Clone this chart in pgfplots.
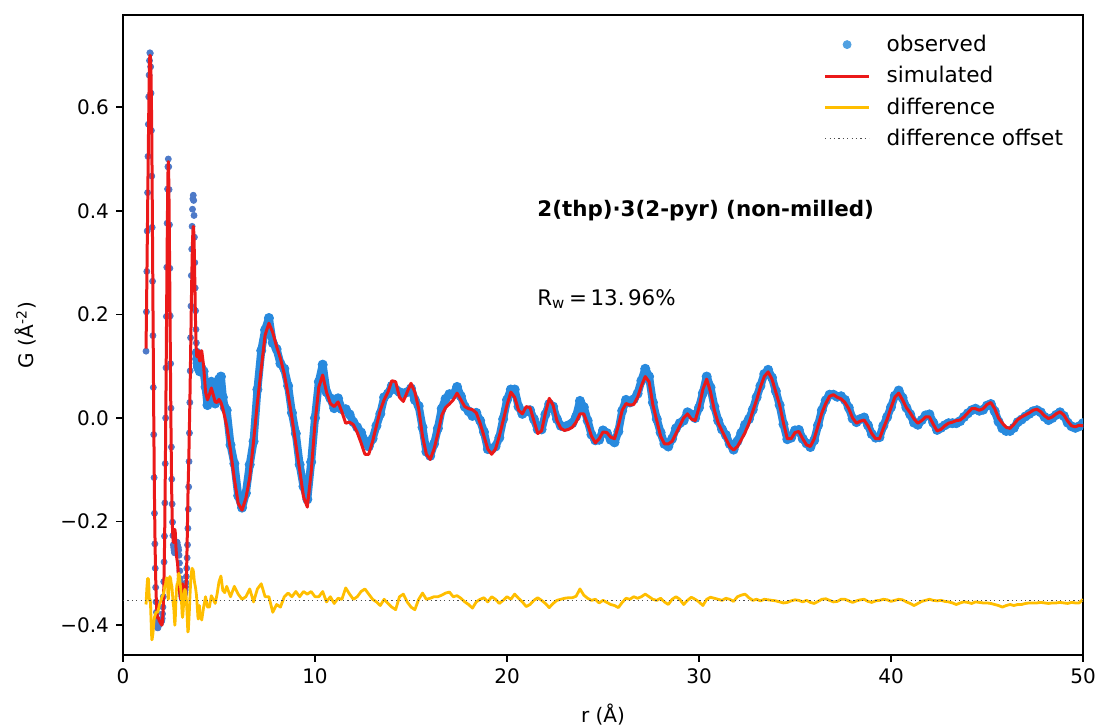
\documentclass[border=0pt]{standalone}
\usepackage{fontspec}
\setmainfont{DejaVu Sans}
\usepackage{pgfplots}
\usepackage{pgfplotstable}
\pgfplotsset{compat=1.18}
\definecolor{obsblue}{RGB}{40,138,222}
\definecolor{obsdot}{RGB}{78,122,200}
\definecolor{legdot}{RGB}{80,160,225}
\definecolor{simred}{RGB}{235,25,25}
\definecolor{diffyel}{RGB}{255,190,0}

\pgfplotstableread{
r obs sim diff
1.20 0.129 0.134 -0.360
1.22 0.205 0.195 -0.345
1.24 0.283 0.258 -0.330
1.26 0.361 0.326 -0.320
1.28 0.435 0.390 -0.310
1.30 0.505 0.460 -0.310
1.32 0.567 0.522 -0.310
1.34 0.620 0.585 -0.320
1.36 0.662 0.647 -0.340
1.38 0.690 0.688 -0.353
1.40 0.705 0.700 -0.350
1.42 0.704 0.700 -0.351
1.44 0.678 0.690 -0.367
1.46 0.627 0.660 -0.388
1.48 0.555 0.610 -0.410
1.50 0.467 0.540 -0.428
1.52 0.368 0.440 -0.427
1.54 0.264 0.330 -0.421
1.56 0.159 0.220 -0.416
1.58 0.059 0.110 -0.406
1.60 -0.032 0.010 -0.397
1.62 -0.115 -0.080 -0.390
1.64 -0.184 -0.155 -0.384
1.66 -0.243 -0.215 -0.383
1.68 -0.290 -0.265 -0.380
1.70 -0.327 -0.305 -0.377
1.72 -0.355 -0.335 -0.375
1.74 -0.375 -0.355 -0.375
1.76 -0.390 -0.370 -0.375
1.78 -0.400 -0.380 -0.375
1.80 -0.405 -0.385 -0.375
1.82 -0.405 -0.387 -0.373
1.84 -0.400 -0.385 -0.370
1.86 -0.400 -0.388 -0.367
1.88 -0.398 -0.390 -0.363
1.90 -0.398 -0.393 -0.360
1.92 -0.396 -0.392 -0.359
1.94 -0.396 -0.395 -0.356
1.96 -0.395 -0.396 -0.354
1.98 -0.394 -0.398 -0.351
2.00 -0.393 -0.398 -0.350
2.02 -0.391 -0.400 -0.346
2.04 -0.387 -0.397 -0.345
2.06 -0.378 -0.390 -0.343
2.08 -0.365 -0.378 -0.342
2.10 -0.345 -0.360 -0.340
2.12 -0.316 -0.335 -0.336
2.14 -0.278 -0.300 -0.333
2.16 -0.228 -0.255 -0.328
2.18 -0.164 -0.195 -0.324
2.20 -0.088 -0.120 -0.323
2.22 0.000 -0.035 -0.320
2.24 0.097 0.055 -0.313
2.26 0.196 0.150 -0.309
2.28 0.291 0.245 -0.309
2.30 0.376 0.330 -0.309
2.32 0.442 0.410 -0.323
2.34 0.485 0.470 -0.340
2.36 0.500 0.495 -0.350
2.38 0.485 0.470 -0.340
2.40 0.441 0.410 -0.324
2.42 0.373 0.330 -0.312
2.44 0.289 0.240 -0.306
2.46 0.197 0.150 -0.308
2.48 0.105 0.060 -0.310
2.50 0.019 -0.020 -0.316
2.52 -0.056 -0.090 -0.321
2.54 -0.118 -0.150 -0.323
2.56 -0.166 -0.190 -0.331
2.58 -0.201 -0.215 -0.341
2.60 -0.227 -0.230 -0.352
2.62 -0.245 -0.240 -0.360
2.64 -0.250 -0.240 -0.365
2.66 -0.255 -0.235 -0.375
2.68 -0.260 -0.225 -0.390
2.70 -0.260 -0.215 -0.400
2.72 -0.255 -0.220 -0.390
2.74 -0.250 -0.235 -0.370
2.76 -0.245 -0.250 -0.350
2.78 -0.240 -0.262 -0.333
2.80 -0.240 -0.270 -0.325
2.82 -0.240 -0.275 -0.320
2.84 -0.245 -0.280 -0.320
2.86 -0.250 -0.290 -0.315
2.88 -0.250 -0.300 -0.305
2.90 -0.255 -0.310 -0.300
2.92 -0.265 -0.320 -0.300
2.94 -0.280 -0.330 -0.305
2.96 -0.295 -0.338 -0.312
2.98 -0.310 -0.344 -0.321
3.00 -0.320 -0.348 -0.327
3.02 -0.330 -0.350 -0.335
3.04 -0.338 -0.345 -0.348
3.06 -0.344 -0.335 -0.364
3.08 -0.348 -0.325 -0.378
3.10 -0.350 -0.320 -0.385
3.12 -0.350 -0.325 -0.380
3.14 -0.348 -0.335 -0.368
3.16 -0.345 -0.345 -0.355
3.18 -0.342 -0.355 -0.342
3.20 -0.340 -0.360 -0.335
3.22 -0.336 -0.360 -0.331
3.24 -0.332 -0.355 -0.332
3.26 -0.326 -0.345 -0.336
3.28 -0.318 -0.330 -0.343
3.30 -0.306 -0.310 -0.351
3.32 -0.290 -0.280 -0.365
3.34 -0.270 -0.245 -0.380
3.36 -0.245 -0.200 -0.400
3.38 -0.213 -0.155 -0.413
3.40 -0.176 -0.120 -0.411
3.42 -0.133 -0.090 -0.398
3.44 -0.084 -0.055 -0.384
3.46 -0.029 -0.015 -0.369
3.48 0.030 0.025 -0.350
3.50 0.091 0.070 -0.334
3.52 0.155 0.120 -0.320
3.54 0.216 0.170 -0.309
3.56 0.275 0.220 -0.300
3.58 0.326 0.265 -0.294
3.60 0.370 0.305 -0.290
3.62 0.403 0.340 -0.292
3.64 0.423 0.360 -0.292
3.66 0.430 0.370 -0.295
3.68 0.420 0.365 -0.300
3.70 0.391 0.345 -0.309
3.72 0.349 0.310 -0.316
3.74 0.300 0.265 -0.320
3.76 0.251 0.220 -0.324
3.78 0.207 0.180 -0.328
3.80 0.171 0.150 -0.334
3.82 0.145 0.130 -0.340
3.84 0.126 0.120 -0.349
3.86 0.114 0.118 -0.359
3.88 0.106 0.122 -0.371
3.90 0.100 0.128 -0.383
3.92 0.097 0.130 -0.388
3.94 0.097 0.128 -0.386
3.96 0.100 0.120 -0.375
3.98 0.105 0.112 -0.362
4.0 0.090 0.110 -0.375
4.1 0.095 0.130 -0.390
4.2 0.090 0.100 -0.365
4.3 0.060 0.050 -0.345
4.4 0.025 0.035 -0.365
4.5 0.035 0.045 -0.365
4.6 0.070 0.058 -0.343
4.7 0.050 0.045 -0.350
4.8 0.028 0.031 -0.358
4.9 0.045 0.030 -0.340
5.0 0.075 0.036 -0.316
5.1 0.080 0.030 -0.305
5.2 0.040 0.018 -0.333
5.3 0.020 0.002 -0.337
5.4 0.015 -0.015 -0.325
5.6 -0.052 -0.062 -0.345
5.8 -0.088 -0.118 -0.325
6.0 -0.150 -0.165 -0.340
6.2 -0.173 -0.178 -0.350
6.4 -0.145 -0.155 -0.345
6.6 -0.090 -0.115 -0.330
6.8 -0.045 -0.045 -0.355
7.0 0.055 0.030 -0.330
7.2 0.130 0.095 -0.320
7.4 0.170 0.160 -0.345
7.6 0.193 0.183 -0.345
7.8 0.145 0.165 -0.375
8.0 0.133 0.138 -0.360
8.2 0.105 0.115 -0.365
8.4 0.095 0.085 -0.345
8.6 0.062 0.045 -0.338
8.8 0.010 0.000 -0.345
9.0 -0.030 -0.050 -0.335
9.2 -0.090 -0.100 -0.345
9.4 -0.132 -0.152 -0.335
9.6 -0.157 -0.172 -0.340
9.8 -0.085 -0.105 -0.335
10.0 0.000 -0.010 -0.345
10.2 0.070 0.060 -0.345
10.4 0.103 0.083 -0.335
10.6 0.050 0.050 -0.355
10.8 0.038 0.028 -0.345
11.0 0.019 0.022 -0.358
11.2 0.038 0.031 -0.348
11.4 0.017 0.012 -0.350
11.6 0.017 -0.010 -0.328
11.8 0.007 -0.008 -0.340
12.0 -0.008 -0.013 -0.350
12.2 -0.018 -0.028 -0.345
12.4 -0.028 -0.048 -0.335
12.6 -0.045 -0.070 -0.330
12.8 -0.055 -0.070 -0.340
13.0 -0.040 -0.045 -0.350
13.2 -0.015 -0.015 -0.355
13.4 0.008 0.015 -0.362
13.6 0.040 0.035 -0.350
13.8 0.047 0.050 -0.358
14.0 0.062 0.072 -0.365
14.2 0.055 0.070 -0.370
14.4 0.050 0.040 -0.345
14.6 0.047 0.032 -0.340
14.8 0.050 0.050 -0.355
15.0 0.057 0.067 -0.365
15.2 0.035 0.050 -0.370
15.4 0.023 0.018 -0.350
15.6 -0.018 -0.035 -0.338
15.8 -0.065 -0.070 -0.350
16.0 -0.073 -0.080 -0.348
16.2 -0.050 -0.060 -0.345
16.4 -0.020 -0.030 -0.345
16.6 0.018 0.005 -0.342
16.8 0.037 0.020 -0.338
17.0 0.046 0.027 -0.336
17.2 0.045 0.035 -0.345
17.4 0.060 0.048 -0.343
17.6 0.042 0.035 -0.348
17.8 0.022 0.022 -0.355
18.0 0.013 0.018 -0.360
18.2 0.004 0.016 -0.367
18.4 0.010 0.010 -0.355
18.6 -0.005 -0.010 -0.350
18.8 -0.027 -0.035 -0.347
19.0 -0.060 -0.060 -0.355
19.2 -0.060 -0.070 -0.345
19.4 -0.055 -0.060 -0.350
19.6 -0.038 -0.035 -0.358
19.8 -0.002 -0.005 -0.352
20.0 0.035 0.025 -0.345
20.2 0.055 0.050 -0.350
20.4 0.055 0.040 -0.340
20.6 0.022 0.015 -0.348
20.8 0.008 0.008 -0.355
21.0 0.013 0.022 -0.364
21.2 0.015 0.020 -0.360
21.4 -0.002 -0.005 -0.352
21.6 -0.022 -0.030 -0.347
21.8 -0.022 -0.025 -0.352
22.0 0.007 0.010 -0.358
22.2 0.027 0.038 -0.366
22.4 0.022 0.025 -0.358
22.6 -0.002 -0.005 -0.352
22.8 -0.015 -0.020 -0.350
23.0 -0.017 -0.024 -0.348
23.2 -0.014 -0.022 -0.347
23.4 -0.010 -0.018 -0.347
23.6 0.003 -0.008 -0.344
23.8 0.033 0.008 -0.330
24.0 0.021 0.008 -0.342
24.2 -0.005 -0.012 -0.348
24.4 -0.032 -0.035 -0.352
24.6 -0.043 -0.048 -0.350
24.8 -0.042 -0.040 -0.357
25.0 -0.024 -0.027 -0.352
25.2 -0.029 -0.028 -0.356
25.4 -0.042 -0.037 -0.360
25.6 -0.047 -0.040 -0.362
25.8 -0.026 -0.015 -0.366
26.0 0.014 0.015 -0.356
26.2 0.035 0.028 -0.348
26.4 0.030 0.025 -0.350
26.6 0.036 0.026 -0.345
26.8 0.047 0.040 -0.348
27.0 0.072 0.062 -0.345
27.2 0.095 0.080 -0.340
27.4 0.080 0.070 -0.345
27.6 0.030 0.025 -0.350
27.8 -0.002 -0.005 -0.352
28.0 -0.028 -0.035 -0.348
28.2 -0.050 -0.050 -0.355
28.4 -0.055 -0.050 -0.360
28.6 -0.040 -0.045 -0.350
28.8 -0.020 -0.030 -0.345
29.0 -0.010 -0.015 -0.350
29.2 -0.005 0.000 -0.360
29.4 0.011 0.008 -0.352
29.6 0.007 -0.002 -0.346
29.8 0.000 -0.005 -0.350
30.0 0.020 0.020 -0.355
30.2 0.048 0.055 -0.362
30.4 0.080 0.075 -0.350
30.6 0.059 0.050 -0.346
30.8 0.022 0.015 -0.348
31.0 -0.005 -0.010 -0.350
31.2 -0.022 -0.025 -0.352
31.4 -0.033 -0.040 -0.348
31.6 -0.050 -0.055 -0.350
31.8 -0.061 -0.062 -0.354
32.0 -0.045 -0.055 -0.345
32.2 -0.029 -0.042 -0.342
32.4 -0.013 -0.028 -0.340
32.6 -0.002 -0.010 -0.347
32.8 0.016 0.013 -0.352
33.0 0.040 0.035 -0.350
33.2 0.062 0.060 -0.353
33.4 0.085 0.080 -0.350
33.6 0.093 0.089 -0.351
33.8 0.078 0.075 -0.352
34.0 0.052 0.050 -0.353
34.2 0.025 0.025 -0.355
34.4 -0.012 -0.010 -0.357
34.6 -0.041 -0.040 -0.356
34.8 -0.038 -0.040 -0.353
35.0 -0.024 -0.028 -0.351
35.2 -0.023 -0.026 -0.352
35.4 -0.040 -0.040 -0.355
35.6 -0.049 -0.052 -0.352
35.8 -0.056 -0.055 -0.356
36.0 -0.043 -0.040 -0.358
36.2 -0.014 -0.015 -0.354
36.4 0.015 0.010 -0.350
36.6 0.034 0.028 -0.349
36.8 0.045 0.042 -0.352
37.0 0.045 0.045 -0.355
37.2 0.041 0.040 -0.354
37.4 0.042 0.037 -0.350
37.6 0.035 0.030 -0.350
37.8 0.020 0.018 -0.353
38.0 -0.001 0.000 -0.356
38.2 -0.008 -0.010 -0.353
38.4 -0.002 -0.006 -0.351
38.6 0.001 -0.004 -0.350
38.8 -0.014 -0.015 -0.354
39.0 -0.031 -0.030 -0.356
39.2 -0.038 -0.040 -0.353
39.4 -0.037 -0.040 -0.352
39.6 -0.015 -0.020 -0.350
39.8 0.002 -0.002 -0.351
40.0 0.021 0.020 -0.354
40.2 0.043 0.040 -0.352
40.4 0.053 0.048 -0.350
40.6 0.039 0.035 -0.351
40.8 0.020 0.020 -0.355
41.0 0.007 0.010 -0.358
41.2 -0.009 -0.002 -0.362
41.4 -0.013 -0.010 -0.358
41.6 -0.004 -0.005 -0.354
41.8 0.005 0.002 -0.352
42.0 0.007 0.002 -0.350
42.2 -0.009 -0.012 -0.352
42.4 -0.023 -0.025 -0.353
42.6 -0.019 -0.022 -0.352
42.8 -0.014 -0.015 -0.354
43.0 -0.010 -0.010 -0.355
43.2 -0.010 -0.008 -0.357
43.4 -0.010 -0.005 -0.360
43.6 -0.006 -0.004 -0.357
43.8 0.002 0.002 -0.355
44.0 0.009 0.010 -0.356
44.2 0.015 0.018 -0.358
44.4 0.018 0.018 -0.355
44.6 0.014 0.015 -0.356
44.8 0.016 0.018 -0.357
45.0 0.024 0.026 -0.357
45.2 0.027 0.030 -0.358
45.4 0.013 0.018 -0.360
45.6 -0.007 0.000 -0.362
45.8 -0.020 -0.010 -0.365
46.0 -0.025 -0.018 -0.362
46.2 -0.025 -0.020 -0.360
46.4 -0.019 -0.012 -0.362
46.6 -0.008 -0.003 -0.360
46.8 -0.003 0.002 -0.360
47.0 0.003 0.006 -0.358
47.2 0.008 0.010 -0.357
47.4 0.013 0.015 -0.357
47.6 0.015 0.017 -0.357
47.8 0.011 0.012 -0.356
48.0 0.002 0.004 -0.357
48.2 -0.004 -0.001 -0.358
48.4 0.000 0.002 -0.357
48.6 0.006 0.008 -0.357
48.8 0.011 0.012 -0.356
49.0 0.004 0.006 -0.357
49.2 -0.009 -0.006 -0.358
49.4 -0.016 -0.015 -0.356
49.6 -0.019 -0.017 -0.357
49.8 -0.016 -0.014 -0.357
50.0 -0.010 -0.015 -0.350
}\pdfdata

\begin{document}
\begin{tikzpicture}
\begin{axis}[
  width=480pt, height=320pt, scale only axis,
  xmin=0, xmax=50, ymin=-0.4575, ymax=0.778,
  clip marker paths=true,
  axis line style={line width=0.8pt},
  tick align=outside, xtick pos=bottom, ytick pos=left,
  major tick length=3.5pt,
  tick style={line width=0.8pt, black},
  xtick={0,10,20,30,40,50},
  xticklabels={0,10,20,30,40,50},
  ytick={-0.4,-0.2,0,0.2,0.4,0.6},
  yticklabels={−0.4,−0.2,0.0,0.2,0.4,0.6},
  ticklabel style={font=\fontsize{10}{12}\selectfont},
  xlabel={r (Å)}, ylabel={G (Å\textsuperscript{-2})},
  label style={font=\fontsize{10}{12}\selectfont},
  ylabel style={yshift=5pt},
  xlabel style={yshift=-3pt},
  legend cell align=left,
  legend image code/.code={\draw[#1] (0pt,0pt) -- (22pt,0pt);},
  legend style={draw=none, fill=none, at={(0.99,0.982)}, anchor=north east,
    font=\fontsize{10.8}{12}\selectfont, row sep=2pt,
    /tikz/every odd column/.append style={column sep=6pt}},
]
\coordinate (bl) at (rel axis cs:0,0);
\coordinate (tr) at (rel axis cs:1,1);
\addplot[obsblue, line width=4pt, line join=round, line cap=round, forget plot,
  restrict x to domain=3.84:50] table[x=r,y=obs]{\pdfdata};
\addplot[only marks, mark=*, mark size=2.3pt, draw=obsblue, fill=obsblue, forget plot,
  restrict x to domain=3.84:50] table[x=r,y=obs]{\pdfdata};
\addplot[only marks, mark=*, mark size=1.5pt, draw=obsdot, fill=obsdot,
  restrict x to domain=1.1:3.83,
  legend image code/.code={\fill[legdot] (11pt,0pt) circle (2pt);}]
  table[x=r,y=obs]{\pdfdata};
\addlegendentry{observed}
\addplot[simred, line width=1.5pt, line join=round] table[x=r,y=sim]{\pdfdata};
\addlegendentry{simulated}
\addplot[diffyel, line width=1.4pt, line join=round] table[x=r,y=diff]{\pdfdata};
\addlegendentry{difference}
\addplot[black!70, line width=0.6pt, dash pattern=on 0.6pt off 1.6pt] coordinates {(0,-0.353) (50,-0.353)};
\addlegendentry{difference offset}
\node[anchor=west, inner sep=0pt, font=\bfseries\fontsize{10.7}{13}\selectfont] at (axis cs:21.56,0.40) {2(thp)·3(2-pyr) (non-milled)};
\node[anchor=west, inner sep=0pt, font=\fontsize{10.7}{13}\selectfont] at (axis cs:21.56,0.23) {R\textsubscript{w}\,=\,13.\,96\%};
\end{axis}
\pgfresetboundingbox
\path[use as bounding box] ([shift={(-61.5pt,-35pt)}]bl) rectangle ([shift={(8pt,7.5pt)}]tr);
\end{tikzpicture}
\end{document}
